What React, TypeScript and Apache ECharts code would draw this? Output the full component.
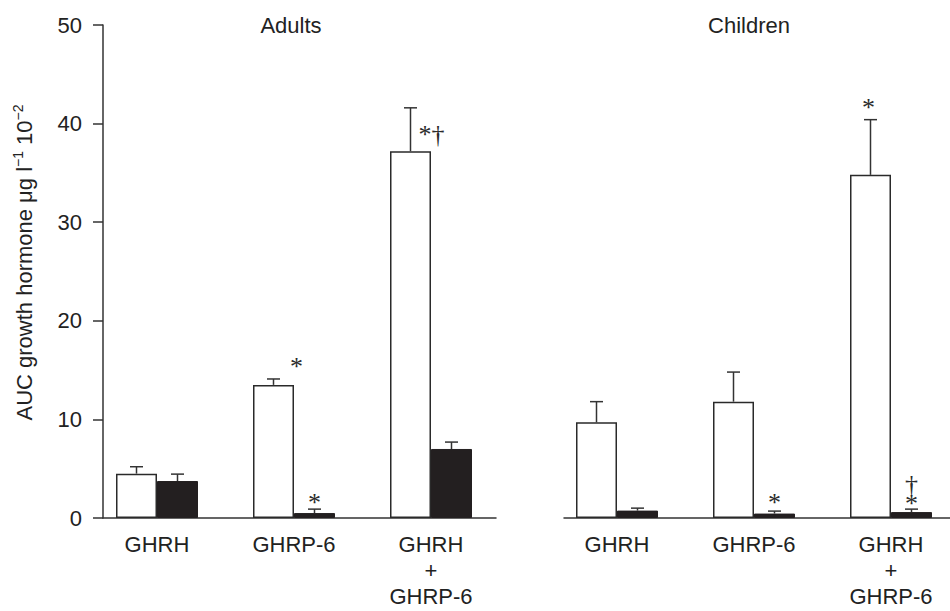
import React, { useEffect, useRef } from "react";
import * as echarts from "echarts";

// ---- data ----
const categories = ["GHRH", "GHRP-6", "GHRH\n+\nGHRP-6"];
const panelTitles = ["Adults", "Children"];

const adultsOpen = [4.5, 13.5, 37.2];
const adultsOpenErr = [0.7, 0.6, 4.4];
const adultsSolid = [3.75, 0.5, 7.0];
const adultsSolidErr = [0.7, 0.4, 0.7];

const childrenOpen = [9.7, 11.8, 34.8];
const childrenOpenErr = [2.1, 3.0, 5.6];
const childrenSolid = [0.75, 0.45, 0.6];
const childrenSolidErr = [0.25, 0.25, 0.3];

const adultsOpenMarks = ["", "*", "*†"];
const adultsSolidMarks = ["", "*", ""];
const childrenOpenMarks = ["", "", "*"];
const childrenSolidMarks = ["", "*", "†\n*"];

const yMin = 0;
const yMax = 50;
const yInterval = 10;

// ---- styling ----
const FONT = '"Liberation Sans", Arial, Helvetica, sans-serif';
const SERIF = '"Liberation Serif", "Times New Roman", serif';
const INK = "#222";
const BAR_W = 41;
const TOP = 25;
const HEIGHT = 493;

// placement of significance marks relative to error-bar top (dx, dy of glyph centre)
const markPlacement: Record<string, { dx: number; dy: number }[]> = {
  adultsOpen: [{ dx: 0, dy: -14 }, { dx: 23, dy: -17 }, { dx: 21, dy: 22 }],
  adultsSolid: [{ dx: 0, dy: -14 }, { dx: 0, dy: -12 }, { dx: 0, dy: -14 }],
  childrenOpen: [{ dx: 0, dy: -14 }, { dx: 0, dy: -14 }, { dx: -2, dy: -17 }],
  childrenSolid: [{ dx: 0, dy: -14 }, { dx: 0, dy: -14 }, { dx: 0, dy: -20 }],
};

function errorSeries(
  key: string,
  gridIdx: number,
  vals: number[],
  errs: number[],
  marks: string[],
  side: number
) {
  return {
    type: "custom",
    xAxisIndex: gridIdx,
    yAxisIndex: gridIdx,
    z: 5,
    silent: true,
    data: vals.map((v, i) => [i, v + errs[i]]),
    encode: { x: 0, y: 1 },
    renderItem: (params: any, api: any) => {
      const i = params.dataIndex;
      const top = api.coord([i, vals[i] + errs[i]]);
      const base = api.coord([i, vals[i]]);
      const x = top[0] + (side * BAR_W) / 2;
      const children: any[] = [
        {
          type: "line",
          shape: { x1: x, y1: base[1], x2: x, y2: top[1] },
          style: { stroke: "#333", lineWidth: 1.5 },
        },
        {
          type: "line",
          shape: { x1: x - 6.5, y1: top[1], x2: x + 6.5, y2: top[1] },
          style: { stroke: "#333", lineWidth: 1.5 },
        },
      ];
      const m = marks[i];
      if (m) {
        const p = markPlacement[key][i];
        children.push({
          type: "text",
          x: x + p.dx,
          y: top[1] + p.dy + 5,
          style: {
            text: m,
            fontSize: 26,
            fontFamily: SERIF,
            fill: "#2a2a2a",
            align: "center",
            verticalAlign: "middle",
            lineHeight: 19,
          },
        });
      }
      return { type: "group", children };
    },
  };
}

function barSeries(name: string, gridIdx: number, vals: number[], open: boolean) {
  return {
    name,
    type: "bar",
    xAxisIndex: gridIdx,
    yAxisIndex: gridIdx,
    barWidth: BAR_W,
    barGap: "0%",
    data: vals,
    itemStyle: open
      ? { color: "#ffffff", borderColor: "#2a2a2a", borderWidth: 1.5 }
      : { color: "#231f20", borderColor: "#231f20", borderWidth: 1 },
  };
}

const catAxis = (gridIndex: number) => ({
  type: "category",
  gridIndex,
  data: categories,
  axisLine: { show: false },
  axisTick: { show: false },
  axisLabel: {
    interval: 0,
    fontSize: 22,
    lineHeight: 26,
    margin: 13,
    color: INK,
    fontFamily: FONT,
  },
  splitLine: { show: false },
});

const baseAxis = (gridIndex: number) => ({
  type: "value",
  gridIndex,
  min: 0,
  max: 1,
  axisLine: { show: true, lineStyle: { color: "#333", width: 1.5 } },
  axisTick: { show: false },
  axisLabel: { show: false },
  splitLine: { show: false },
});

const hiddenY = (gridIndex: number) => ({
  type: "value",
  gridIndex,
  min: yMin,
  max: yMax,
  show: false,
  splitLine: { show: false },
});

const gridBox = (left: number, width: number) => ({
  left,
  top: TOP,
  width,
  height: HEIGHT,
  containLabel: false,
  outerBoundsMode: "none",
});

export default function App() {
  const ref = useRef<HTMLDivElement>(null);
  useEffect(() => {
    if (!ref.current) return;
    const chart = echarts.init(ref.current, undefined, { renderer: "svg" });
    chart.setOption({
      animation: false,
      backgroundColor: "#ffffff",
      textStyle: { fontFamily: FONT },
      grid: [
        gridBox(88.5, 411),
        gridBox(548.5, 411),
        gridBox(103, 393),
        gridBox(564, 386),
      ],
      xAxis: [catAxis(0), catAxis(1), baseAxis(2), baseAxis(3)],
      yAxis: [
        hiddenY(0),
        hiddenY(1),
        {
          type: "value",
          gridIndex: 2,
          min: yMin,
          max: yMax,
          interval: yInterval,
          axisLine: { show: true, lineStyle: { color: "#333", width: 1.5 } },
          axisTick: { show: true, length: 10, lineStyle: { color: "#333", width: 1.5 } },
          axisLabel: { fontSize: 22, margin: 21, color: INK, fontFamily: FONT },
          splitLine: { show: false },
          name: "{n|AUC growth hormone μg l}{s|−1}{n| 10}{s|−2}",
          nameLocation: "middle",
          nameRotate: 90,
          nameGap: 66,
          nameTextStyle: {
            padding: [0, 0, 0, 18],
            rich: {
              n: { fontSize: 22, fontFamily: FONT, color: INK, lineHeight: 26 },
              s: {
                fontSize: 14,
                fontFamily: FONT,
                color: INK,
                lineHeight: 14,
                verticalAlign: "top",
              },
            },
          },
        },
        hiddenY(3),
      ],
      graphic: panelTitles.map((t, i) => ({
        type: "text",
        x: i === 0 ? 291 : 749,
        y: 25,
        style: {
          text: t,
          fontSize: 22,
          fontFamily: FONT,
          fill: INK,
          align: "center",
          verticalAlign: "middle",
        },
      })),
      series: [
        barSeries("Adults open", 0, adultsOpen, true),
        barSeries("Adults solid", 0, adultsSolid, false),
        barSeries("Children open", 1, childrenOpen, true),
        barSeries("Children solid", 1, childrenSolid, false),
        errorSeries("adultsOpen", 0, adultsOpen, adultsOpenErr, adultsOpenMarks, -1),
        errorSeries("adultsSolid", 0, adultsSolid, adultsSolidErr, adultsSolidMarks, 1),
        errorSeries("childrenOpen", 1, childrenOpen, childrenOpenErr, childrenOpenMarks, -1),
        errorSeries("childrenSolid", 1, childrenSolid, childrenSolidErr, childrenSolidMarks, 1),
      ],
    });
    return () => chart.dispose();
  }, []);
  return (
    <div
      ref={ref}
      style={{ position: "fixed", left: 0, top: 0, width: 950, height: 611 }}
    />
  );
}
